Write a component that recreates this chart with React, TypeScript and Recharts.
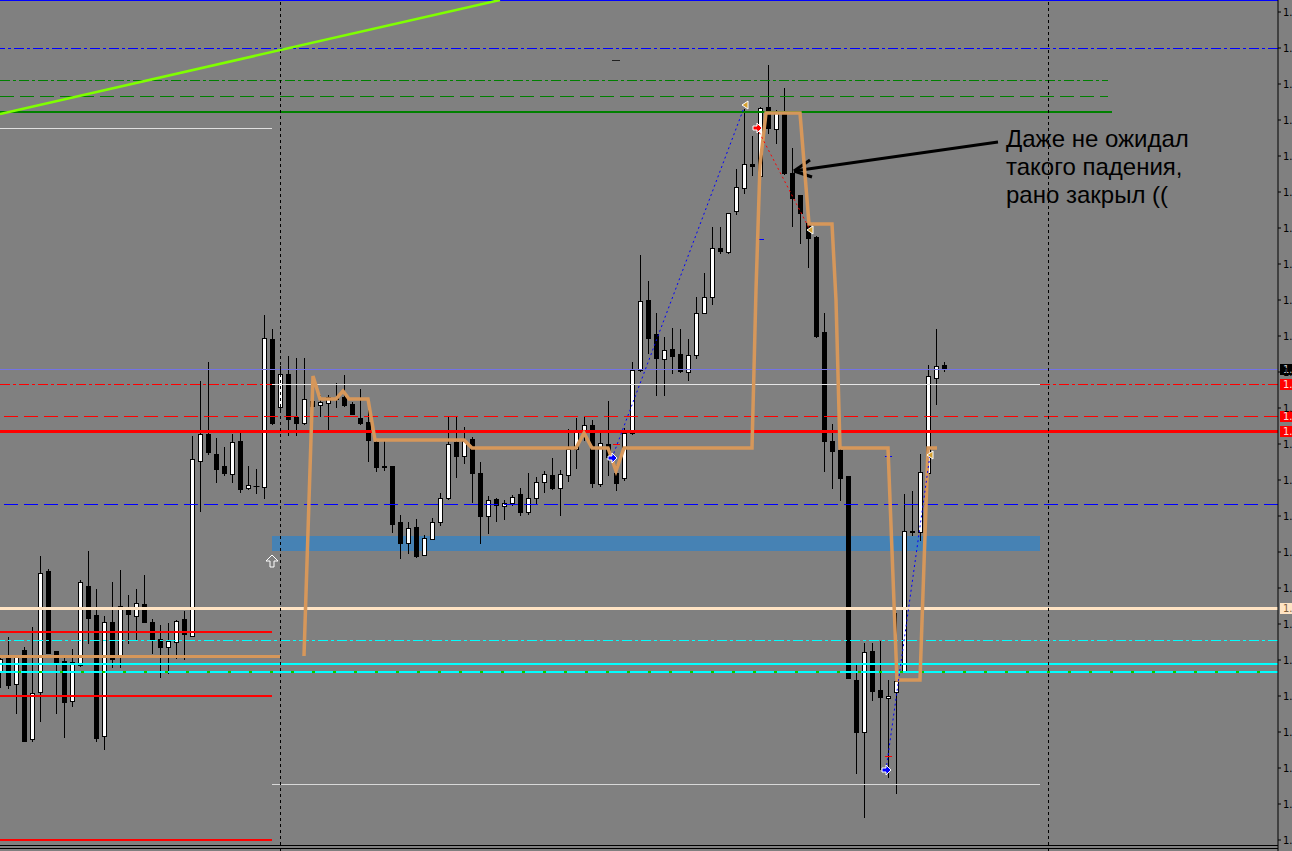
import React from 'react';
import { ComposedChart, Bar, XAxis, YAxis, ReferenceLine, ReferenceArea, ReferenceDot, Scatter } from 'recharts';

const W = 1292;
const H = 851;

// ---- candles (bar index 0..118) ----
const open = [
  1.37328, 1.37343, 1.37316, 1.37350, 1.37261, 1.37308, 1.37429, 1.37349, 1.37339, 1.37299,
  1.37335, 1.37414, 1.37385, 1.37264, 1.37378, 1.37343, 1.37393, 1.37384, 1.37396, 1.37378,
  1.37361, 1.37353, 1.37358, 1.37381, 1.37364, 1.37539, 1.37566, 1.37546, 1.37534, 1.37526,
  1.37559, 1.37512, 1.37514, 1.37513, 1.37661, 1.37593, 1.37626, 1.37583, 1.37577, 1.37599,
  1.37595, 1.37597, 1.37601, 1.37603, 1.37596, 1.37582, 1.37578, 1.37558, 1.37534, 1.37534,
  1.37478, 1.37457, 1.37473, 1.37445, 1.37461, 1.37478, 1.37502, 1.37558, 1.37544, 1.37561,
  1.37527, 1.37484, 1.37501, 1.37494, 1.37497, 1.37506, 1.37488, 1.37502, 1.37518, 1.37525,
  1.37512, 1.37525, 1.37551, 1.37569, 1.37575, 1.37516, 1.37556, 1.37527, 1.37522, 1.37567,
  1.37630, 1.37700, 1.37666, 1.37641, 1.37651, 1.37646, 1.37628, 1.37645, 1.37687, 1.37703,
  1.37752, 1.37748, 1.37789, 1.37812, 1.37836, 1.37824, 1.37893, 1.37871, 1.37887, 1.37827,
  1.37805, 1.37777, 1.37763, 1.37668, 1.37559, 1.37550, 1.37524, 1.37320, 1.37268, 1.37349,
  1.37310, 1.37302, 1.37308, 1.37329, 1.37469, 1.37468, 1.37527, 1.37622, 1.37635,
];
const high = [
  1.37345, 1.37363, 1.37344, 1.37353, 1.37373, 1.37444, 1.37431, 1.37349, 1.37345, 1.37351,
  1.37420, 1.37449, 1.37411, 1.37384, 1.37418, 1.37430, 1.37405, 1.37411, 1.37425, 1.37381,
  1.37375, 1.37377, 1.37380, 1.37389, 1.37564, 1.37619, 1.37638, 1.37562, 1.37553, 1.37566,
  1.37567, 1.37534, 1.37531, 1.37685, 1.37671, 1.37634, 1.37644, 1.37642, 1.37642, 1.37606,
  1.37605, 1.37605, 1.37617, 1.37625, 1.37598, 1.37611, 1.37590, 1.37559, 1.37560, 1.37534,
  1.37485, 1.37478, 1.37481, 1.37465, 1.37482, 1.37507, 1.37584, 1.37584, 1.37573, 1.37563,
  1.37538, 1.37504, 1.37502, 1.37500, 1.37505, 1.37512, 1.37527, 1.37523, 1.37529, 1.37542,
  1.37530, 1.37571, 1.37582, 1.37583, 1.37580, 1.37570, 1.37599, 1.37535, 1.37572, 1.37638,
  1.37745, 1.37719, 1.37687, 1.37663, 1.37672, 1.37671, 1.37661, 1.37703, 1.37727, 1.37773,
  1.37773, 1.37787, 1.37831, 1.37891, 1.37864, 1.37893, 1.37935, 1.37890, 1.37912, 1.37852,
  1.37805, 1.37787, 1.37764, 1.37687, 1.37576, 1.37551, 1.37524, 1.37335, 1.37357, 1.37357,
  1.37359, 1.37320, 1.37387, 1.37506, 1.37509, 1.37546, 1.37635, 1.37671, 1.37638,
];
const low = [
  1.37313, 1.37312, 1.37287, 1.37259, 1.37259, 1.37279, 1.37347, 1.37287, 1.37263, 1.37294,
  1.37334, 1.37357, 1.37259, 1.37251, 1.37333, 1.37333, 1.37357, 1.37360, 1.37378, 1.37347,
  1.37323, 1.37327, 1.37342, 1.37341, 1.37364, 1.37489, 1.37546, 1.37518, 1.37525, 1.37518,
  1.37508, 1.37511, 1.37507, 1.37502, 1.37576, 1.37591, 1.37565, 1.37565, 1.37576, 1.37593,
  1.37584, 1.37569, 1.37593, 1.37594, 1.37586, 1.37576, 1.37539, 1.37529, 1.37530, 1.37468,
  1.37442, 1.37447, 1.37443, 1.37445, 1.37461, 1.37475, 1.37501, 1.37523, 1.37537, 1.37498,
  1.37457, 1.37467, 1.37479, 1.37481, 1.37495, 1.37485, 1.37486, 1.37497, 1.37508, 1.37511,
  1.37485, 1.37519, 1.37532, 1.37560, 1.37513, 1.37514, 1.37525, 1.37510, 1.37520, 1.37566,
  1.37629, 1.37647, 1.37605, 1.37605, 1.37627, 1.37628, 1.37620, 1.37642, 1.37687, 1.37696,
  1.37747, 1.37747, 1.37786, 1.37807, 1.37825, 1.37822, 1.37867, 1.37857, 1.37826, 1.37774,
  1.37757, 1.37733, 1.37663, 1.37529, 1.37512, 1.37500, 1.37322, 1.37227, 1.37183, 1.37300,
  1.37231, 1.37223, 1.37207, 1.37328, 1.37465, 1.37460, 1.37527, 1.37596, 1.37629,
];
const close = [
  1.37341, 1.37315, 1.37343, 1.37259, 1.37307, 1.37427, 1.37347, 1.37337, 1.37298, 1.37338,
  1.37418, 1.37382, 1.37262, 1.37378, 1.37341, 1.37394, 1.37386, 1.37397, 1.37378, 1.37361,
  1.37353, 1.37359, 1.37379, 1.37366, 1.37541, 1.37566, 1.37548, 1.37531, 1.37527, 1.37558,
  1.37511, 1.37515, 1.37514, 1.37662, 1.37577, 1.37626, 1.37581, 1.37577, 1.37601, 1.37594,
  1.37598, 1.37603, 1.37602, 1.37595, 1.37586, 1.37577, 1.37560, 1.37533, 1.37533, 1.37476,
  1.37457, 1.37472, 1.37444, 1.37462, 1.37478, 1.37502, 1.37556, 1.37544, 1.37559, 1.37527,
  1.37484, 1.37500, 1.37495, 1.37497, 1.37503, 1.37488, 1.37502, 1.37518, 1.37526, 1.37512,
  1.37526, 1.37551, 1.37570, 1.37575, 1.37517, 1.37557, 1.37543, 1.37517, 1.37567, 1.37630,
  1.37699, 1.37662, 1.37642, 1.37650, 1.37644, 1.37629, 1.37645, 1.37687, 1.37703, 1.37752,
  1.37749, 1.37787, 1.37813, 1.37836, 1.37834, 1.37892, 1.37872, 1.37887, 1.37827, 1.37802,
  1.37787, 1.37762, 1.37664, 1.37559, 1.37549, 1.37522, 1.37322, 1.37268, 1.37348, 1.37309,
  1.37303, 1.37304, 1.37319, 1.37469, 1.37468, 1.37528, 1.37624, 1.37634, 1.37631,
];

const candles = open.map((o, i) => ({ i, open: o, high: high[i], low: low[i], close: close[i] }));

// ---- price axis ----
const yTicks = [
  1.37988, 1.37952, 1.37916, 1.37880, 1.37844, 1.37808, 1.37772, 1.37736, 1.37700, 1.37664,
  1.37628, 1.37592, 1.37556, 1.37520, 1.37484, 1.37448, 1.37412, 1.37376, 1.37340, 1.37304,
  1.37268, 1.37232, 1.37196, 1.37160,
];

// ---- indicator (orange step line) ----
const orangeIdx = [38, 39.125, 40, 42, 42.875, 43.625, 46, 46.875, 58, 59, 72, 73, 74, 76, 77, 78, 94, 94.5, 95, 95.75, 100, 101.125, 104, 104.5, 105, 111, 112.125, 115, 116, 117.125];
const orangePrice = [1.37344, 1.37624, 1.37601, 1.37601, 1.37609, 1.37601, 1.37601, 1.37560, 1.37560, 1.37552, 1.37552, 1.37567, 1.37552, 1.37552, 1.37529, 1.37552, 1.37552, 1.37710, 1.37835, 1.37887, 1.37887, 1.37776, 1.37776, 1.37700, 1.37552, 1.37552, 1.37320, 1.37320, 1.37552, 1.37552];
const orangeLine = orangeIdx.map((i, k) => ({ i, p: orangePrice[k] }));

// ---- trade lines (dotted) ----
const buy1 = [{ i: 76.5, p: 1.37542 }, { i: 93.125, p: 1.37895 }];
const sell1 = [{ i: 94.625, p: 1.37872 }, { i: 101.25, p: 1.37770 }];
const buy2 = [{ i: 110.75, p: 1.37230 }, { i: 116.25, p: 1.37545 }];

// ---- markers ----
const closeMarks = [{ i: 93.125, p: 1.37895 }, { i: 101.25, p: 1.37770 }, { i: 116.25, p: 1.37545 }];
const buyMarks = [{ i: 76.5, p: 1.37542 }, { i: 110.75, p: 1.37230 }];
const sellMarks = [{ i: 94.625, p: 1.37872 }];
const upArrowMark = { i: 34, p: 1.37439 };

// ---- horizontal levels ----
const blueLevels = [1.38000, 1.37952, 1.37496];
const greenLevels = [1.37920, 1.37904, 1.37888];
const redLevels = [1.37616, 1.37584, 1.37569];
const bidLevel = 1.37631;
const whiteLevels = [1.37872, 1.37616, 1.37216];
const leftRedLevels = [1.37368, 1.37304, 1.37160];
const peachLevel = 1.37392;
const tanLevel = 1.37344;
const cyanLevels = [1.37360, 1.37336, 1.37328];
const frameLevels = [1.37155, 1.37152];
const zone = [1.37464, 1.37449];
const trendLine = [{ i: 0, p: 1.37886 }, { i: 62.5, p: 1.38000 }];
const sessionLines = [35, 131];

// ---- annotation ----
const noteLines = ['Даже не ожидал', 'такого падения,', 'рано закрыл (('];
const notePos = { i: 125.75, p: 1.37853 };
const arrowShaft = [{ i: 124.75, p: 1.37858 }, { i: 99.25, p: 1.37829 }];
const arrowHead = [{ i: 101.25, p: 1.37840 }, { i: 101.5, p: 1.37823 }];

const DASH = '14 6';
const DASHDOT = '10 3 3 3';
const ORANGE = '#D6975A';
const CRISP = 'crispEdges';

const Candle = (props: any) => {
  const { x, y, width, height, payload } = props;
  if (x == null || y == null) return <g />;
  const cx = Math.round(x + width / 2) + 0.5;
  const top = Math.min(y, y + height);
  const h = Math.abs(height);
  const { open: o, close: c, high: hi, low: lo } = payload;
  const range = hi - lo;
  const py = (v: number) => (range === 0 ? top : top + ((hi - v) / range) * h);
  const yO = Math.round(py(o)) + 0.5;
  const yC = Math.round(py(c)) + 0.5;
  const bull = c >= o;
  const bTop = Math.min(yO, yC);
  const bBot = Math.max(yO, yC);
  return (
    <g>
      <line x1={cx} x2={cx} y1={Math.round(top)} y2={Math.round(top + h) + 1} stroke="#000" strokeWidth={1} />
      {bBot - bTop < 1 ? (
        <line x1={cx - 3} x2={cx + 3} y1={bTop} y2={bTop} stroke="#000" strokeWidth={1} />
      ) : (
        <rect x={cx - 2} y={bTop} width={4} height={bBot - bTop} fill={bull ? '#fff' : '#000'} stroke="#000" strokeWidth={1} />
      )}
    </g>
  );
};

const axisBox = (bg: string, fg: string) => (props: any) => {
  const vb = props.viewBox || {};
  const x = (vb.x || 0) + (vb.width || 0) + 2;
  const y = Math.round(vb.y || 0);
  return (
    <g>
      <rect x={x} y={y - 5} width={14} height={11} fill={bg} />
      <text x={x + 3} y={y + 4} fontSize={10} fill={fg} fontFamily="DejaVu Sans">1.</text>
    </g>
  );
};

const noShape = () => <g />;

const tri = (color: string) => (p: any) => (
  <polygon
    points={`${p.cx - 3},${p.cy} ${p.cx + 3},${p.cy - 4} ${p.cx + 3},${p.cy + 4}`}
    fill={color}
    stroke="#fff"
    strokeWidth={1}
  />
);

const rightArrow = (color: string) => (p: any) => {
  const { cx, cy } = p;
  const pts = [
    [-4, -2], [0, -2], [0, -5], [5, 0], [0, 5], [0, 2], [-4, 2],
  ].map(([a, b]) => `${cx + a},${cy + b}`).join(' ');
  return <polygon points={pts} fill={color} stroke="#fff" strokeWidth={1} />;
};

const upArrow = (p: any) => {
  const { cx, cy } = p;
  const pts = [
    [0, -6], [6, 0], [2, 0], [2, 6], [-2, 6], [-2, 0], [-6, 0],
  ].map(([a, b]) => `${cx + a},${cy + b}`).join(' ');
  return <polygon points={pts} fill="#808080" stroke="#fff" strokeWidth={1} />;
};

const noteShape = (p: any) => (
  <text x={p.cx} y={p.cy} fontFamily="Liberation Sans, Arial, sans-serif" fontSize={24} fill="#000">
    {noteLines.map((t, k) => (
      <tspan key={k} x={p.cx} dy={k === 0 ? 0 : 28}>{t}</tspan>
    ))}
  </text>
);

export default function App() {
  return (
    <div style={{ position: 'absolute', left: 0, top: 0, width: W, height: H, background: '#808080', overflow: 'hidden' }}>
      <ComposedChart width={W} height={H} data={candles} margin={{ top: 0, right: 0, bottom: 0, left: 0 }}>
        <XAxis dataKey="i" type="number" domain={[0, 159.75]} hide allowDataOverflow />
        <YAxis
          orientation="right"
          type="number"
          width={14}
          domain={[1.37149, 1.38]}
          allowDataOverflow
          ticks={yTicks}
          interval={0}
          tickFormatter={() => '1.'}
          tick={{ fill: '#000', fontSize: 10, fontFamily: 'DejaVu Sans' }}
          tickSize={3}
          tickMargin={2}
          axisLine={{ stroke: '#000' }}
          tickLine={{ stroke: '#000' }}
        />

        {/* background zone */}
        <ReferenceArea x1={34} x2={130} y1={zone[0]} y2={zone[1]} fill="#4682B4" fillOpacity={1} stroke="none" shapeRendering={CRISP} />

        {/* candles */}
        <Bar dataKey={(d: any) => [d.low, d.high]} barSize={5} shape={Candle} isAnimationActive={false} />

        {/* blue levels */}
        <ReferenceLine y={blueLevels[0]} stroke="#0000FF" strokeWidth={2} shapeRendering={CRISP} />
        <ReferenceLine y={blueLevels[1]} stroke="#0000FF" strokeDasharray={DASHDOT} shapeRendering={CRISP} />
        <ReferenceLine y={blueLevels[2]} stroke="#0000FF" strokeDasharray={DASH} shapeRendering={CRISP} />

        {/* green levels */}
        <ReferenceLine segment={[{ x: 0, y: greenLevels[0] }, { x: 138.5, y: greenLevels[0] }]} stroke="#008000" strokeDasharray={DASHDOT} shapeRendering={CRISP} />
        <ReferenceLine segment={[{ x: 0, y: greenLevels[1] }, { x: 138.5, y: greenLevels[1] }]} stroke="#008000" strokeDasharray={DASH} shapeRendering={CRISP} />
        <ReferenceLine segment={[{ x: 0, y: greenLevels[2] }, { x: 139, y: greenLevels[2] }]} stroke="#008000" strokeWidth={2} shapeRendering={CRISP} />

        {/* white / gray levels */}
        <ReferenceLine segment={[{ x: 0, y: whiteLevels[0] }, { x: 34, y: whiteLevels[0] }]} stroke="#E0E0E0" shapeRendering={CRISP} />
        <ReferenceLine segment={[{ x: 34, y: whiteLevels[1] }, { x: 130, y: whiteLevels[1] }]} stroke="#E6E6E6" shapeRendering={CRISP} />
        <ReferenceLine segment={[{ x: 34, y: whiteLevels[2] }, { x: 130, y: whiteLevels[2] }]} stroke="#D8D8D8" shapeRendering={CRISP} />

        {/* bid line */}
        <ReferenceLine y={bidLevel} stroke="#7373E6" shapeRendering={CRISP} label={axisBox('#000', '#C8C8C8')} />

        {/* red levels */}
        <ReferenceLine segment={[{ x: 0, y: redLevels[0] }, { x: 34, y: redLevels[0] }]} stroke="#FF0000" strokeDasharray={DASHDOT} shapeRendering={CRISP} />
        <ReferenceLine segment={[{ x: 130, y: redLevels[0] }, { x: 159.75, y: redLevels[0] }]} stroke="#FF0000" strokeDasharray={DASHDOT} shapeRendering={CRISP} label={axisBox('#FF0000', '#FFE0E0')} />
        <ReferenceLine y={redLevels[1]} stroke="#FF0000" strokeDasharray={DASH} shapeRendering={CRISP} label={axisBox('#FF0000', '#FFE0E0')} />
        <ReferenceLine y={redLevels[2]} stroke="#FF0000" strokeWidth={3} shapeRendering={CRISP} label={axisBox('#FF0000', '#FFE0E0')} />

        {/* left-side red lines */}
        {leftRedLevels.map((p, k) => (
          <ReferenceLine key={'lr' + k} segment={[{ x: 0, y: p }, { x: 34, y: p }]} stroke="#FF0000" strokeWidth={1.5} shapeRendering={CRISP} />
        ))}

        {/* peach level */}
        <ReferenceLine y={peachLevel} stroke="#FFE4C4" strokeWidth={3} shapeRendering={CRISP} label={axisBox('#FFE4C4', '#806040')} />

        {/* cyan levels */}
        <ReferenceLine y={cyanLevels[0]} stroke="#00FFFF" strokeDasharray={DASHDOT} shapeRendering={CRISP} />
        <ReferenceLine y={cyanLevels[2]} stroke="#00CC00" strokeWidth={1.5} shapeRendering={CRISP} />
        <ReferenceLine y={cyanLevels[2]} stroke="#00FFFF" strokeWidth={1.5} strokeDasharray="18 3" shapeRendering={CRISP} />
        <ReferenceLine y={cyanLevels[1]} stroke="#00FFFF" strokeWidth={2.5} shapeRendering={CRISP} />

        {/* tan level */}
        <ReferenceLine segment={[{ x: 0, y: tanLevel }, { x: 35, y: tanLevel }]} stroke={ORANGE} strokeWidth={3} shapeRendering={CRISP} />

        {/* frame lines */}
        {frameLevels.map((p, k) => (
          <ReferenceLine key={'fr' + k} y={p} stroke="#000" shapeRendering={CRISP} />
        ))}

        {/* session separators */}
        {sessionLines.map((x, k) => (
          <ReferenceLine key={'vs' + k} x={x} stroke="#000" strokeDasharray="3 3" shapeRendering={CRISP} />
        ))}

        {/* trend line */}
        <ReferenceLine segment={trendLine.map((d) => ({ x: d.i, y: d.p }))} stroke="#7FFF00" strokeWidth={2.5} />

        {/* small marks */}
        <ReferenceLine segment={[{ x: 76.5, y: 1.3794 }, { x: 77.5, y: 1.3794 }]} stroke="#202020" shapeRendering={CRISP} />
        <ReferenceLine segment={[{ x: 94.6, y: 1.37761 }, { x: 95.5, y: 1.37761 }]} stroke="#0000FF" shapeRendering={CRISP} />
        <ReferenceLine segment={[{ x: 110.6, y: 1.37544 }, { x: 111.5, y: 1.37544 }]} stroke="#0000FF" shapeRendering={CRISP} />
        <ReferenceLine segment={[{ x: 110.6, y: 1.37244 }, { x: 111.5, y: 1.37244 }]} stroke="#FF0000" shapeRendering={CRISP} />
        <ReferenceLine segment={[{ x: 76.6, y: 1.37556 }, { x: 77.5, y: 1.37556 }]} stroke="#FF0000" shapeRendering={CRISP} />

        {/* indicator */}
        <Scatter data={orangeLine} dataKey="p" line={{ stroke: ORANGE, strokeWidth: 3.5 }} shape={noShape} isAnimationActive={false} legendType="none" />

        {/* trade lines */}
        <Scatter data={buy1} dataKey="p" line={{ stroke: '#0000FF', strokeWidth: 1, strokeDasharray: '2 3' }} shape={noShape} isAnimationActive={false} legendType="none" />
        <Scatter data={sell1} dataKey="p" line={{ stroke: '#FF0000', strokeWidth: 1, strokeDasharray: '2 3' }} shape={noShape} isAnimationActive={false} legendType="none" />
        <Scatter data={buy2} dataKey="p" line={{ stroke: '#0000FF', strokeWidth: 1, strokeDasharray: '2 3' }} shape={noShape} isAnimationActive={false} legendType="none" />

        {/* markers */}
        {closeMarks.map((m, k) => (
          <ReferenceDot key={'cm' + k} x={m.i} y={m.p} r={4} shape={tri('#D4A030')} />
        ))}
        {buyMarks.map((m, k) => (
          <ReferenceDot key={'bm' + k} x={m.i} y={m.p} r={4} shape={rightArrow('#0000FF')} />
        ))}
        {sellMarks.map((m, k) => (
          <ReferenceDot key={'sm' + k} x={m.i} y={m.p} r={4} shape={rightArrow('#FF0000')} />
        ))}
        <ReferenceDot x={upArrowMark.i} y={upArrowMark.p} r={4} shape={upArrow} />

        {/* annotation */}
        <ReferenceLine segment={arrowShaft.map((d) => ({ x: d.i, y: d.p }))} stroke="#000" strokeWidth={3} />
        <ReferenceLine segment={[{ x: arrowShaft[1].i, y: arrowShaft[1].p }, { x: arrowHead[0].i, y: arrowHead[0].p }]} stroke="#000" strokeWidth={3} />
        <ReferenceLine segment={[{ x: arrowShaft[1].i, y: arrowShaft[1].p }, { x: arrowHead[1].i, y: arrowHead[1].p }]} stroke="#000" strokeWidth={3} />
        <ReferenceDot x={notePos.i} y={notePos.p} r={1} shape={noteShape} />
      </ComposedChart>
    </div>
  );
}
